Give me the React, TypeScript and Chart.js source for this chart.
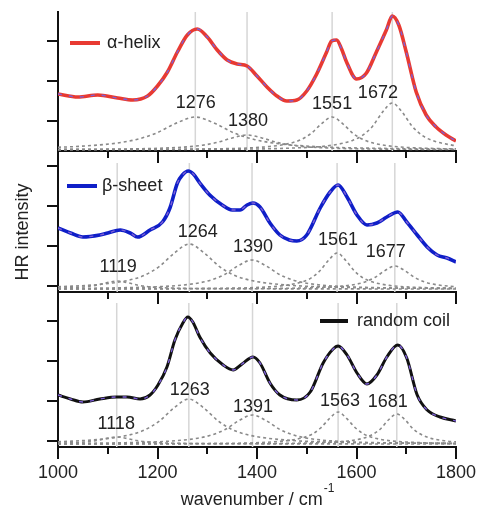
import React, { useEffect, useRef } from "react";
import { Chart, registerables } from "chart.js";
Chart.register(...registerables);

const FONT = '"Liberation Sans", Arial, Helvetica, sans-serif';
const TEXT_COLOR = "#222";
const AXIS_COLOR = "#111";
const FIT_COLOR = "#7d5fd6";
const COMP_COLOR = "#8a8a8a";
const PEAK_LINE_COLOR = "#d6d6d6";

const X_MIN = 1000;
const X_MAX = 1800;
const X_TICK_LABELS = [1000, 1200, 1400, 1600, 1800];
const X_MINOR_TICKS = [1100, 1300, 1500, 1700];

// ---------- panel 1 : alpha-helix ----------
const ALPHA_X = [1000, 1040, 1080, 1120, 1150, 1180, 1200, 1220, 1240, 1260, 1280, 1300, 1320, 1340, 1360, 1380, 1400, 1420, 1440, 1460, 1480, 1500, 1520, 1540, 1550, 1560, 1570, 1580, 1600, 1620, 1640, 1660, 1672, 1685, 1700, 1720, 1740, 1760, 1780, 1800];
const ALPHA_Y = [1.425, 1.35, 1.4, 1.325, 1.275, 1.375, 1.625, 1.975, 2.475, 2.9, 3.05, 2.85, 2.525, 2.275, 2.175, 2.125, 1.875, 1.6, 1.375, 1.25, 1.275, 1.5, 1.925, 2.475, 2.75, 2.775, 2.55, 2.225, 1.8, 1.95, 2.475, 3.025, 3.375, 3.15, 2.475, 1.475, 0.9, 0.6, 0.4, 0.25];
const ALPHA_PEAKS = [1276, 1380, 1551, 1672];
const ALPHA_LABEL_X = [1277, 1382, 1551, 1643];
const ALPHA_LABEL_Y = [1.2, 0.75, 1.175, 1.45];
const ALPHA_Y_TICKS = [0.75, 1.75, 2.75];
const ALPHA_C1: [number, number][] = [[1000, 0.094], [1036, 0.112], [1116, 0.194], [1156, 0.283], [1196, 0.44], [1236, 0.686], [1276, 0.85], [1316, 0.686], [1356, 0.44], [1396, 0.283], [1436, 0.194], [1516, 0.112], [1676, 0.061], [1800, 0.049]];
const ALPHA_C2: [number, number][] = [[1000, 0.039], [1080, 0.044], [1200, 0.067], [1260, 0.104], [1290, 0.144], [1320, 0.215], [1350, 0.326], [1380, 0.4], [1410, 0.326], [1440, 0.215], [1470, 0.144], [1500, 0.104], [1560, 0.067], [1680, 0.044], [1800, 0.037]];
const ALPHA_C3: [number, number][] = [[1000, 0.035], [1300, 0.052], [1425, 0.112], [1467, 0.194], [1488, 0.283], [1509, 0.44], [1530, 0.686], [1551, 0.85], [1572, 0.686], [1593, 0.44], [1614, 0.283], [1635, 0.194], [1677, 0.112], [1761, 0.061], [1800, 0.053]];
const ALPHA_C4: [number, number][] = [[1000, 0.034], [1300, 0.043], [1472, 0.074], [1552, 0.147], [1592, 0.264], [1612, 0.39], [1632, 0.615], [1652, 0.966], [1672, 1.2], [1692, 0.966], [1712, 0.615], [1732, 0.39], [1752, 0.264], [1792, 0.147], [1800, 0.134]];

// ---------- panel 2 : beta-sheet ----------
const BETA_X = [1000, 1025, 1050, 1084, 1100, 1125, 1145, 1160, 1185, 1210, 1225, 1240, 1250, 1262, 1272, 1285, 1305, 1330, 1350, 1366, 1380, 1392, 1406, 1426, 1446, 1465, 1480, 1500, 1527, 1547, 1563, 1581, 1601, 1621, 1641, 1661, 1683, 1701, 1722, 1742, 1762, 1782, 1800];
const BETA_Y = [1.6, 1.475, 1.375, 1.425, 1.475, 1.55, 1.475, 1.375, 1.55, 1.75, 2.1, 2.725, 2.925, 3.025, 2.95, 2.725, 2.425, 2.175, 2.05, 2.05, 2.175, 2.225, 2.125, 1.725, 1.425, 1.3, 1.275, 1.425, 2.1, 2.5, 2.675, 2.375, 1.925, 1.675, 1.725, 1.875, 2.0, 1.75, 1.425, 1.125, 0.925, 0.85, 0.75];
const BETA_PEAKS = [1119, 1264, 1390, 1561, 1677];
const BETA_LABEL_X = [1121, 1281, 1392, 1563, 1659];
const BETA_LABEL_Y = [0.625, 1.5, 1.125, 1.3, 1.0];
const BETA_Y_TICKS = [0.15, 1.15, 2.15, 3.15];
const BETA_C1: [number, number][] = [[1000, 0.095], [1039, 0.115], [1059, 0.137], [1079, 0.175], [1099, 0.235], [1119, 0.275], [1139, 0.235], [1159, 0.175], [1179, 0.137], [1199, 0.115], [1239, 0.095], [1319, 0.083], [1800, 0.076]];
const BETA_C2: [number, number][] = [[1000, 0.13], [1084, 0.19], [1144, 0.3], [1174, 0.42], [1204, 0.64], [1234, 0.975], [1264, 1.2], [1294, 0.975], [1324, 0.64], [1354, 0.42], [1384, 0.3], [1444, 0.19], [1564, 0.118], [1800, 0.089]];
const BETA_C3: [number, number][] = [[1000, 0.089], [1115, 0.103], [1225, 0.148], [1280, 0.22], [1307, 0.298], [1335, 0.4375], [1362, 0.655], [1390, 0.8], [1418, 0.655], [1445, 0.4375], [1473, 0.298], [1500, 0.22], [1555, 0.148], [1665, 0.103], [1800, 0.088]];
const BETA_C4: [number, number][] = [[1000, 0.077], [1300, 0.091], [1456, 0.165], [1491, 0.255], [1509, 0.352], [1526, 0.525], [1544, 0.795], [1561, 0.975], [1578, 0.795], [1596, 0.525], [1613, 0.352], [1631, 0.255], [1666, 0.165], [1736, 0.109], [1800, 0.094]];
const BETA_C5: [number, number][] = [[1000, 0.076], [1300, 0.082], [1477, 0.097], [1557, 0.133], [1597, 0.19], [1617, 0.252], [1637, 0.3625], [1657, 0.535], [1677, 0.65], [1697, 0.535], [1717, 0.3625], [1737, 0.252], [1757, 0.19], [1797, 0.133], [1800, 0.13]];

// ---------- panel 3 : random coil ----------
const COIL_X = [1000, 1025, 1050, 1084, 1118, 1139, 1165, 1185, 1201, 1219, 1235, 1251, 1261, 1271, 1285, 1306, 1332, 1352, 1370, 1392, 1406, 1426, 1446, 1480, 1507, 1533, 1553, 1563, 1581, 1601, 1621, 1641, 1661, 1683, 1701, 1722, 1742, 1768, 1800];
const COIL_Y = [1.3, 1.2, 1.125, 1.2, 1.25, 1.25, 1.2, 1.3, 1.55, 2.0, 2.675, 3.1, 3.25, 3.125, 2.75, 2.35, 2.05, 1.925, 2.075, 2.25, 2.1, 1.6, 1.3, 1.175, 1.375, 2.1, 2.45, 2.525, 2.3, 1.85, 1.575, 1.8, 2.25, 2.55, 2.225, 1.3, 0.925, 0.75, 0.65];
const COIL_PEAKS = [1118, 1263, 1391, 1563, 1681];
const COIL_LABEL_X = [1117, 1265, 1392, 1567, 1663];
const COIL_LABEL_Y = [0.575, 1.425, 1.0, 1.15, 1.125];
const COIL_Y_TICKS = [0.15, 1.15, 2.15, 3.15];
const COIL_C1: [number, number][] = [[1000, 0.093], [1038, 0.11], [1058, 0.129], [1078, 0.1625], [1098, 0.215], [1118, 0.25], [1138, 0.215], [1158, 0.1625], [1178, 0.129], [1198, 0.11], [1238, 0.093], [1318, 0.082], [1800, 0.076]];
const COIL_C2: [number, number][] = [[1000, 0.13], [1083, 0.19], [1143, 0.3], [1173, 0.42], [1203, 0.64], [1233, 0.975], [1263, 1.2], [1293, 0.975], [1323, 0.64], [1353, 0.42], [1383, 0.3], [1443, 0.19], [1563, 0.118], [1800, 0.089]];
const COIL_C3: [number, number][] = [[1000, 0.089], [1116, 0.103], [1226, 0.148], [1281, 0.22], [1308, 0.298], [1336, 0.4375], [1363, 0.655], [1391, 0.8], [1419, 0.655], [1446, 0.4375], [1474, 0.298], [1501, 0.22], [1556, 0.148], [1666, 0.103], [1800, 0.088]];
const COIL_C4: [number, number][] = [[1000, 0.077], [1300, 0.089], [1458, 0.155], [1493, 0.235], [1511, 0.321], [1528, 0.475], [1546, 0.715], [1563, 0.875], [1580, 0.715], [1598, 0.475], [1615, 0.321], [1633, 0.235], [1668, 0.155], [1738, 0.105], [1800, 0.092]];
const COIL_C5: [number, number][] = [[1000, 0.076], [1300, 0.081], [1516, 0.104], [1582, 0.15], [1615, 0.225], [1631, 0.306], [1648, 0.45], [1664, 0.675], [1681, 0.825], [1698, 0.675], [1714, 0.45], [1731, 0.306], [1747, 0.225], [1780, 0.15], [1800, 0.128]];

type Pt = [number, number];
interface PanelCfg {
  top: number;
  height: number;
  padTop: number;
  xAxisHeight: number;
  showXLabels: boolean;
  yMax: number;
  yTicks: number[];
  curveX: number[];
  curveY: number[];
  color: string;
  lineWidth: number;
  components: Pt[][];
  peaks: number[];
  labelX: number[];
  labelY: number[];
  legend: { text: string; x1: number; x2: number; tx: number; y: number };
  extra?: (ctx: CanvasRenderingContext2D, chart: Chart) => void;
}

const PANELS: PanelCfg[] = [
  {
    top: 0, height: 163, padTop: 12, xAxisHeight: 12, showXLabels: false,
    yMax: 139 / 40, yTicks: ALPHA_Y_TICKS,
    curveX: ALPHA_X, curveY: ALPHA_Y, color: "#e83a32", lineWidth: 3.6,
    components: [ALPHA_C1, ALPHA_C2, ALPHA_C3, ALPHA_C4],
    peaks: ALPHA_PEAKS, labelX: ALPHA_LABEL_X, labelY: ALPHA_LABEL_Y,
    legend: { text: "α-helix", x1: 70, x2: 100, tx: 107, y: 43 },
  },
  {
    top: 163, height: 141, padTop: 0, xAxisHeight: 12, showXLabels: false,
    yMax: 129 / 40, yTicks: BETA_Y_TICKS,
    curveX: BETA_X, curveY: BETA_Y, color: "#0f1fc8", lineWidth: 3.6,
    components: [BETA_C1, BETA_C2, BETA_C3, BETA_C4, BETA_C5],
    peaks: BETA_PEAKS, labelX: BETA_LABEL_X, labelY: BETA_LABEL_Y,
    legend: { text: "β-sheet", x1: 67, x2: 97, tx: 102, y: 23 },
    extra: (ctx) => {
      ctx.save();
      ctx.translate(23, 69);
      ctx.rotate(-Math.PI / 2);
      ctx.fillStyle = TEXT_COLOR;
      ctx.font = `18px ${FONT}`;
      ctx.textAlign = "center";
      ctx.textBaseline = "middle";
      ctx.fillText("HR intensity", 0, 0);
      ctx.restore();
    },
  },
  {
    top: 303, height: 215, padTop: 0, xAxisHeight: 71, showXLabels: true,
    yMax: 144 / 40, yTicks: COIL_Y_TICKS,
    curveX: COIL_X, curveY: COIL_Y, color: "#111111", lineWidth: 3,
    components: [COIL_C1, COIL_C2, COIL_C3, COIL_C4, COIL_C5],
    peaks: COIL_PEAKS, labelX: COIL_LABEL_X, labelY: COIL_LABEL_Y,
    legend: { text: "random coil", x1: 320, x2: 348, tx: 357, y: 18 },
    extra: (ctx, chart) => {
      const a = chart.chartArea;
      const cx = (a.left + a.right) / 2;
      ctx.save();
      ctx.fillStyle = TEXT_COLOR;
      ctx.font = `18px ${FONT}`;
      const main = "wavenumber / cm";
      const w1 = ctx.measureText(main).width;
      ctx.font = `12px ${FONT}`;
      const sup = "-1";
      const w2 = ctx.measureText(sup).width;
      const start = cx - (w1 + w2) / 2;
      ctx.textAlign = "left";
      ctx.textBaseline = "middle";
      ctx.font = `18px ${FONT}`;
      ctx.fillText(main, start, 197);
      ctx.font = `12px ${FONT}`;
      ctx.fillText(sup, start + w1 + 1, 186);
      ctx.restore();
    },
  },
];

function makeChart(canvas: HTMLCanvasElement, cfg: PanelCfg) {
  const xy = (xs: number[], ys: number[]) => xs.map((x, i) => ({ x, y: ys[i] }));
  const overlay = {
    id: "overlay",
    beforeDatasetsDraw(chart: any) {
      const { ctx, chartArea: a, scales } = chart;
      const x = scales.x;
      ctx.save();
      ctx.strokeStyle = PEAK_LINE_COLOR;
      ctx.lineWidth = 1.5;
      cfg.peaks.forEach((p) => {
        const px = x.getPixelForValue(p);
        ctx.beginPath();
        ctx.moveTo(px, a.top);
        ctx.lineTo(px, a.bottom);
        ctx.stroke();
      });
      ctx.restore();
    },
    afterDraw(chart: any) {
      const { ctx, chartArea: a, scales } = chart;
      const x = scales.x;
      const y = scales.y;
      ctx.save();
      ctx.strokeStyle = AXIS_COLOR;
      ctx.lineWidth = 2;
      const drawTick = (v: number, len: number) => {
        const px = Math.round(x.getPixelForValue(v));
        ctx.beginPath();
        ctx.moveTo(px, a.bottom);
        ctx.lineTo(px, a.bottom + len);
        ctx.stroke();
      };
      X_TICK_LABELS.forEach((v) => drawTick(v, 12));
      X_MINOR_TICKS.forEach((v) => drawTick(v, 7));

      ctx.fillStyle = TEXT_COLOR;
      ctx.font = `18px ${FONT}`;
      ctx.textAlign = "center";
      ctx.textBaseline = "middle";
      cfg.peaks.forEach((p, i) => {
        ctx.fillText(String(p), x.getPixelForValue(cfg.labelX[i]), y.getPixelForValue(cfg.labelY[i]));
      });

      const lg = cfg.legend;
      ctx.strokeStyle = cfg.color;
      ctx.lineWidth = 4;
      ctx.beginPath();
      ctx.moveTo(lg.x1, lg.y);
      ctx.lineTo(lg.x2, lg.y);
      ctx.stroke();
      ctx.textAlign = "left";
      ctx.fillText(lg.text, lg.tx, lg.y);
      ctx.restore();
      if (cfg.extra) cfg.extra(ctx, chart);
    },
  };

  const datasets: any[] = [
    {
      data: xy(cfg.curveX, cfg.curveY),
      borderColor: cfg.color,
      borderWidth: cfg.lineWidth,
      pointRadius: 0,
      cubicInterpolationMode: "monotone",
      fill: false,
      order: 1,
    },
    {
      data: xy(cfg.curveX, cfg.curveY),
      borderColor: FIT_COLOR,
      borderWidth: 1.4,
      borderDash: [4, 7],
      pointRadius: 0,
      cubicInterpolationMode: "monotone",
      fill: false,
      order: 0,
    },
    ...cfg.components.map((c) => ({
      data: c.map(([px, py]) => ({ x: px, y: py })),
      borderColor: COMP_COLOR,
      borderWidth: 1.6,
      borderDash: [3, 3],
      pointRadius: 0,
      cubicInterpolationMode: "monotone",
      fill: false,
      order: 2,
    })),
  ];

  return new Chart(canvas, {
    type: "line",
    data: { datasets },
    options: {
      animation: false,
      responsive: false,
      devicePixelRatio: 1,
      events: [],
      layout: { padding: { top: cfg.padTop, left: 0, right: 24, bottom: 0 } },
      plugins: { legend: { display: false }, tooltip: { enabled: false } },
      scales: {
        x: {
          type: "linear",
          min: X_MIN,
          max: X_MAX,
          afterBuildTicks: (s: any) => {
            s.ticks = X_TICK_LABELS.map((v) => ({ value: v }));
          },
          afterFit: (s: any) => {
            s.height = cfg.xAxisHeight;
          },
          grid: { display: false, drawTicks: true, tickLength: 12 },
          border: { display: true, color: AXIS_COLOR, width: 2 },
          ticks: cfg.showXLabels
            ? {
                display: true,
                font: { family: FONT, size: 18 },
                color: TEXT_COLOR,
                padding: 3,
                maxRotation: 0,
                autoSkip: false,
                callback: (v: any) => String(v),
              }
            : { display: false },
        },
        y: {
          type: "linear",
          min: 0,
          max: cfg.yMax,
          afterBuildTicks: (s: any) => {
            s.ticks = cfg.yTicks.map((v) => ({ value: v }));
          },
          afterFit: (s: any) => {
            s.width = 58;
          },
          grid: { display: true, drawOnChartArea: false, drawTicks: true, tickLength: 11, color: AXIS_COLOR, lineWidth: 2 },
          border: { display: true, color: AXIS_COLOR, width: 2 },
          ticks: { display: false },
        },
      },
    },
    plugins: [overlay],
  } as any);
}

function Panel({ cfg }: { cfg: PanelCfg }) {
  const ref = useRef<HTMLCanvasElement | null>(null);
  useEffect(() => {
    if (!ref.current) return;
    const chart = makeChart(ref.current, cfg);
    return () => chart.destroy();
  }, [cfg]);
  return (
    <canvas
      ref={ref}
      width={480}
      height={cfg.height}
      style={{ position: "absolute", left: 0, top: cfg.top, width: 480, height: cfg.height }}
    />
  );
}

export default function App() {
  return (
    <div style={{ position: "absolute", left: 0, top: 0, width: 480, height: 518, background: "#fff", overflow: "hidden" }}>
      {PANELS.map((p, i) => (
        <Panel key={i} cfg={p} />
      ))}
    </div>
  );
}
